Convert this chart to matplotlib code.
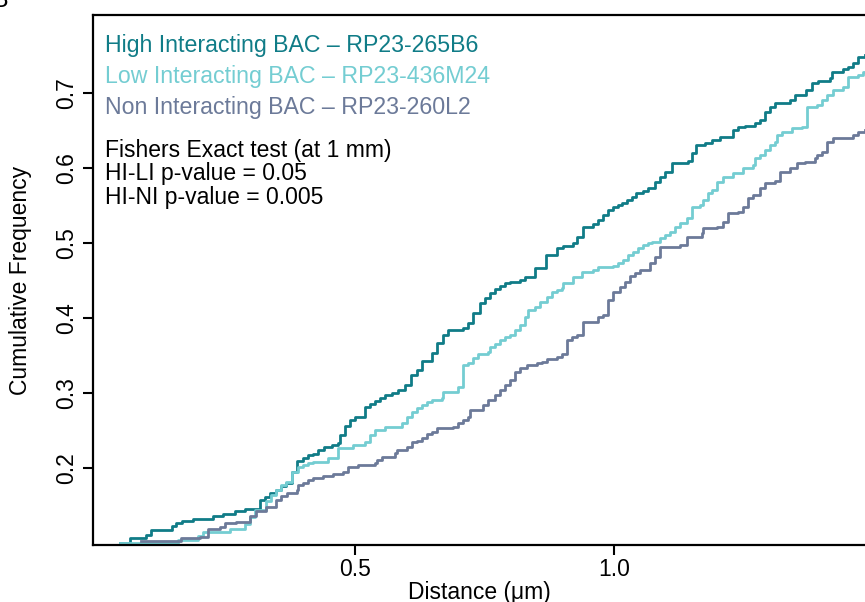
import matplotlib
matplotlib.use("Agg")
import matplotlib.pyplot as plt

plt.rcParams['font.family'] = ['Liberation Sans', 'DejaVu Sans']

# cumulative distance distributions (step points: distance in um, cumulative frequency)
high_x = [0.046, 0.066, 0.097, 0.106, 0.147, 0.154, 0.166, 0.187, 0.226, 0.245,
          0.268, 0.288, 0.317, 0.326, 0.336, 0.347, 0.357, 0.367, 0.378, 0.388,
          0.400, 0.409, 0.419, 0.429, 0.440, 0.456, 0.467, 0.471, 0.481, 0.490,
          0.500, 0.519, 0.529, 0.539, 0.548, 0.558, 0.571, 0.583, 0.597, 0.608,
          0.620, 0.629, 0.649, 0.658, 0.670, 0.680, 0.708, 0.718, 0.728, 0.741,
          0.751, 0.761, 0.770, 0.780, 0.790, 0.799, 0.819, 0.828, 0.847, 0.869,
          0.890, 0.902, 0.921, 0.929, 0.940, 0.959, 0.969, 0.979, 0.988, 0.998,
          1.008, 1.015, 1.025, 1.035, 1.042, 1.056, 1.066, 1.079, 1.089, 1.098,
          1.112, 1.143, 1.151, 1.158, 1.176, 1.189, 1.205, 1.230, 1.239, 1.253,
          1.272, 1.282, 1.292, 1.301, 1.311, 1.340, 1.349, 1.371, 1.382, 1.394,
          1.417, 1.421, 1.442, 1.452, 1.461, 1.471, 1.485]
high_y = [0.100, 0.107, 0.111, 0.117, 0.123, 0.127, 0.129, 0.132, 0.136, 0.139,
          0.143, 0.145, 0.157, 0.161, 0.167, 0.171, 0.176, 0.180, 0.195, 0.209,
          0.213, 0.217, 0.219, 0.224, 0.228, 0.231, 0.233, 0.244, 0.256, 0.264,
          0.268, 0.281, 0.285, 0.289, 0.293, 0.297, 0.300, 0.304, 0.311, 0.324,
          0.331, 0.343, 0.353, 0.367, 0.377, 0.384, 0.387, 0.393, 0.407, 0.420,
          0.427, 0.433, 0.439, 0.443, 0.447, 0.448, 0.451, 0.455, 0.467, 0.484,
          0.493, 0.496, 0.500, 0.508, 0.521, 0.525, 0.531, 0.537, 0.544, 0.548,
          0.551, 0.553, 0.557, 0.561, 0.567, 0.569, 0.573, 0.581, 0.588, 0.595,
          0.607, 0.609, 0.620, 0.631, 0.633, 0.637, 0.641, 0.651, 0.655, 0.656,
          0.660, 0.664, 0.675, 0.681, 0.687, 0.691, 0.697, 0.704, 0.713, 0.716,
          0.720, 0.728, 0.732, 0.735, 0.740, 0.748, 0.751]

low_x = [0.046, 0.158, 0.197, 0.207, 0.259, 0.288, 0.297, 0.307, 0.328, 0.338,
         0.347, 0.357, 0.367, 0.378, 0.390, 0.400, 0.409, 0.419, 0.448, 0.467,
         0.496, 0.519, 0.529, 0.539, 0.558, 0.591, 0.600, 0.610, 0.620, 0.629,
         0.639, 0.649, 0.668, 0.670, 0.699, 0.708, 0.718, 0.728, 0.737, 0.757,
         0.761, 0.770, 0.780, 0.790, 0.799, 0.809, 0.819, 0.828, 0.834, 0.847,
         0.857, 0.871, 0.880, 0.890, 0.900, 0.902, 0.921, 0.938, 0.959, 0.969,
         0.998, 1.008, 1.017, 1.027, 1.037, 1.046, 1.056, 1.066, 1.073, 1.089,
         1.098, 1.108, 1.118, 1.127, 1.141, 1.151, 1.166, 1.172, 1.181, 1.189,
         1.199, 1.210, 1.230, 1.249, 1.268, 1.272, 1.282, 1.292, 1.301, 1.311,
         1.315, 1.324, 1.344, 1.363, 1.373, 1.392, 1.402, 1.411, 1.423, 1.442,
         1.452, 1.471, 1.481, 1.485]
low_y = [0.100, 0.104, 0.109, 0.115, 0.119, 0.125, 0.135, 0.144, 0.156, 0.164,
         0.171, 0.177, 0.181, 0.195, 0.201, 0.204, 0.207, 0.208, 0.213, 0.227,
         0.231, 0.235, 0.244, 0.251, 0.255, 0.260, 0.268, 0.275, 0.280, 0.284,
         0.288, 0.291, 0.293, 0.301, 0.308, 0.337, 0.340, 0.347, 0.352, 0.355,
         0.361, 0.365, 0.371, 0.375, 0.377, 0.384, 0.391, 0.401, 0.411, 0.415,
         0.421, 0.428, 0.435, 0.437, 0.440, 0.447, 0.455, 0.461, 0.464, 0.468,
         0.469, 0.473, 0.477, 0.484, 0.488, 0.493, 0.497, 0.500, 0.501, 0.507,
         0.511, 0.515, 0.521, 0.527, 0.533, 0.548, 0.551, 0.557, 0.567, 0.571,
         0.581, 0.588, 0.593, 0.600, 0.604, 0.613, 0.617, 0.624, 0.631, 0.635,
         0.644, 0.648, 0.653, 0.655, 0.681, 0.684, 0.691, 0.697, 0.704, 0.708,
         0.721, 0.724, 0.728, 0.728]

non_x = [0.087, 0.164, 0.201, 0.216, 0.239, 0.249, 0.270, 0.297, 0.309, 0.328,
         0.347, 0.357, 0.369, 0.388, 0.390, 0.400, 0.409, 0.419, 0.438, 0.458,
         0.477, 0.486, 0.506, 0.539, 0.542, 0.552, 0.577, 0.581, 0.600, 0.610,
         0.620, 0.629, 0.639, 0.649, 0.658, 0.689, 0.699, 0.708, 0.718, 0.722,
         0.747, 0.757, 0.770, 0.780, 0.790, 0.799, 0.809, 0.819, 0.832, 0.851,
         0.861, 0.871, 0.890, 0.900, 0.909, 0.919, 0.929, 0.940, 0.969, 0.979,
         0.988, 0.998, 1.012, 1.021, 1.031, 1.041, 1.050, 1.069, 1.079, 1.089,
         1.127, 1.141, 1.170, 1.172, 1.199, 1.210, 1.220, 1.239, 1.249, 1.259,
         1.268, 1.282, 1.292, 1.311, 1.320, 1.340, 1.353, 1.369, 1.388, 1.392,
         1.402, 1.411, 1.423, 1.461, 1.471, 1.485]
non_y = [0.103, 0.107, 0.108, 0.119, 0.121, 0.127, 0.128, 0.136, 0.143, 0.148,
         0.157, 0.163, 0.167, 0.171, 0.177, 0.180, 0.184, 0.187, 0.189, 0.192,
         0.195, 0.201, 0.204, 0.207, 0.211, 0.215, 0.220, 0.224, 0.228, 0.235,
         0.236, 0.240, 0.245, 0.248, 0.253, 0.255, 0.260, 0.264, 0.268, 0.277,
         0.284, 0.291, 0.297, 0.304, 0.311, 0.317, 0.328, 0.333, 0.337, 0.340,
         0.341, 0.345, 0.348, 0.352, 0.371, 0.375, 0.377, 0.395, 0.401, 0.404,
         0.424, 0.435, 0.441, 0.448, 0.456, 0.460, 0.464, 0.473, 0.481, 0.495,
         0.497, 0.508, 0.513, 0.520, 0.521, 0.528, 0.540, 0.541, 0.548, 0.560,
         0.564, 0.573, 0.580, 0.583, 0.595, 0.600, 0.607, 0.608, 0.613, 0.617,
         0.621, 0.635, 0.640, 0.644, 0.648, 0.651]

labels = ['High Interacting BAC \u2013 RP23-265B6',
          'Low Interacting BAC \u2013 RP23-436M24',
          'Non Interacting BAC \u2013 RP23-260L2']
colors = ['#107c87', '#74cdd2', '#6c7a99']
stats_lines = ['Fishers Exact test (at 1 mm)',
               'HI-LI p-value = 0.05',
               'HI-NI p-value = 0.005']

fig = plt.figure(figsize=(8.65, 6.02), dpi=100)
ax = fig.add_axes([93 / 865, 57 / 602, 1 - 93 / 865, 530 / 602])

for xs, ys, c in zip([high_x, low_x, non_x], [high_y, low_y, non_y], colors):
    ax.plot(xs, ys, drawstyle='steps-post', color=c, lw=2.0)

ax.set_xlim(-0.0058, 1.4846)
ax.set_ylim(0.0973, 0.804)
ax.set_xticks([0.5, 1.0])
ax.set_xticklabels(['0.5', '1.0'])
ax.set_yticks([0.2, 0.3, 0.4, 0.5, 0.6, 0.7])
ax.set_yticklabels(['0.2', '0.3', '0.4', '0.5', '0.6', '0.7'],
                   rotation=90, va='center')
ax.tick_params(axis='both', direction='out', length=7, width=1.5,
               labelsize=16.5, color='black')
ax.tick_params(axis='x', pad=2)
ax.tick_params(axis='y', pad=4)
for s in ['left', 'top', 'bottom']:
    ax.spines[s].set_linewidth(1.6)
ax.spines['right'].set_visible(False)

ax.set_xlabel('Distance (\u03bcm)', fontsize=16.5, labelpad=0)
ax.set_ylabel('Cumulative Frequency', fontsize=16.5, labelpad=16)

for i, (lab, c) in enumerate(zip(labels, colors)):
    ax.text(0.016, 0.943 - i * 0.0585, lab, transform=ax.transAxes,
            fontsize=16.7, color=c, va='center', ha='left')
for i, line in enumerate(stats_lines):
    ax.text(0.016, 0.745 - i * 0.0443, line, transform=ax.transAxes,
            fontsize=16.5, color='black', va='center', ha='left')

# panel letter, mostly outside the canvas
fig.text(0.0, 1.0, 'B', fontsize=18, ha='center', va='center')

fig.savefig('out.png', dpi=100)
